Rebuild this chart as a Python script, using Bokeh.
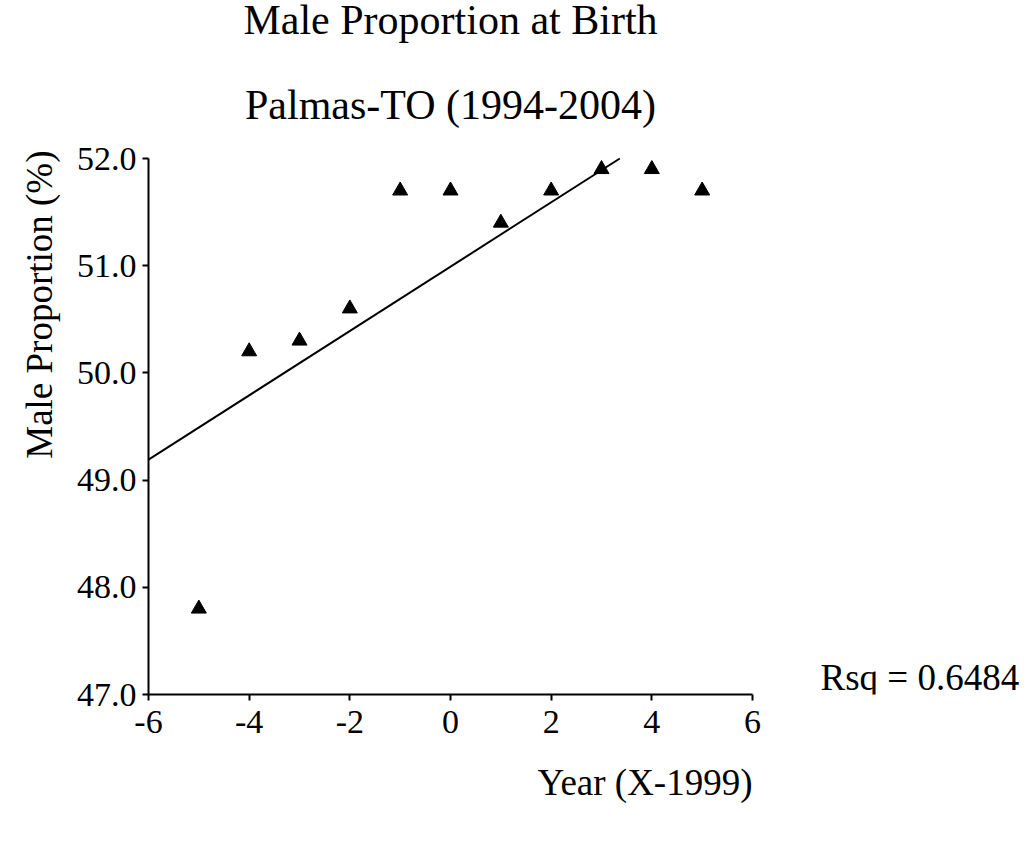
import numpy as np
from bokeh.plotting import figure
from bokeh.models import FixedTicker, Range1d, Title, Label
from bokeh.embed import file_html
from bokeh.resources import INLINE

years = [-5, -4, -3, -2, -1, 0, 1, 2, 3, 4, 5]
male_prop = [47.8, 50.2, 50.3, 50.6, 51.7, 51.7, 51.4, 51.7, 51.9, 51.9, 51.7]
x_ticks = [-6, -4, -2, 0, 2, 4, 6]
y_ticks = [47.0, 48.0, 49.0, 50.0, 51.0, 52.0]
rsq_text = "Rsq = 0.6484"
title_lines = ["Male Proportion at Birth", "Palmas-TO (1994-2004)"]
x_label = "Year (X-1999)"
y_label = "Male Proportion (%)"

FONT = "Liberation Serif"

W, H = 1020, 843
LEFT, BOTTOM = 148, 149            # frame left / bottom border in px
X_PX = 604 / 12.0                   # px per x unit
Y_PX = 536 / 5.0                    # px per y unit
x_end = 6 + (W - LEFT - 12 * X_PX) / X_PX
y_end = 52 + (H - BOTTOM - 5 * Y_PX) / Y_PX

p = figure(width=W, height=H, output_backend="svg", toolbar_location=None,
           x_range=Range1d(-6, x_end), y_range=Range1d(47, y_end),
           min_border_left=LEFT, min_border_right=0, min_border_top=0, min_border_bottom=BOTTOM)
p.outline_line_color = None
p.grid.visible = False

# least-squares fit line, drawn up to the top of the y axis
slope, intercept = np.polyfit(years, male_prop, 1)
x_stop = (52.0 - intercept) / slope
xs = np.array([-6.0, x_stop])
p.line(xs, slope * xs + intercept, line_color="black", line_width=2)
p.scatter(years, male_prop, marker="triangle", size=15, fill_color="black", line_color="black")

for ax in (p.xaxis[0], p.yaxis[0]):
    ax.axis_line_width = 2
    ax.major_tick_line_width = 2
    ax.major_tick_out = 6
    ax.major_tick_in = 0
    ax.minor_tick_line_color = None
    ax.major_label_text_font = FONT
    ax.major_label_text_font_size = "34px"
    ax.major_label_text_color = "black"
    ax.axis_line_color = "black"
    ax.major_tick_line_color = "black"

p.xaxis.bounds = (-6, 6)
p.yaxis.bounds = (47, 52)
p.xaxis.ticker = FixedTicker(ticks=x_ticks)
p.yaxis.ticker = FixedTicker(ticks=y_ticks)
p.xaxis.major_label_overrides = {t: str(t) for t in x_ticks}
p.yaxis.major_label_overrides = {t: f"{t:.1f}" for t in y_ticks}
p.xaxis.major_label_standoff = 10
p.yaxis.major_label_standoff = 6

def lab(text, x, y, align, size):
    p.add_layout(Label(x=x, y=y, text=text, text_align=align, text_baseline="alphabetic",
                       text_font=FONT, text_font_size=size, text_color="black"))

lab(title_lines[0], 0, 53.29, "center", "42px")
lab(title_lines[1], 0, 52.50, "center", "42px")
lab(rsq_text, 7.351, 47.155, "left", "37px")

right_gap = W - LEFT - 12 * X_PX
p.add_layout(Title(text=x_label, align="right", offset=right_gap, standoff=48,
                   text_font=FONT, text_font_size="37px", text_font_style="normal",
                   text_color="black"), "below")
p.add_layout(Title(text=y_label, align="right", offset=150, standoff=28,
                   text_font=FONT, text_font_size="37px", text_font_style="normal",
                   text_color="black"), "left")

open("out.html", "w").write(file_html(p, INLINE))
